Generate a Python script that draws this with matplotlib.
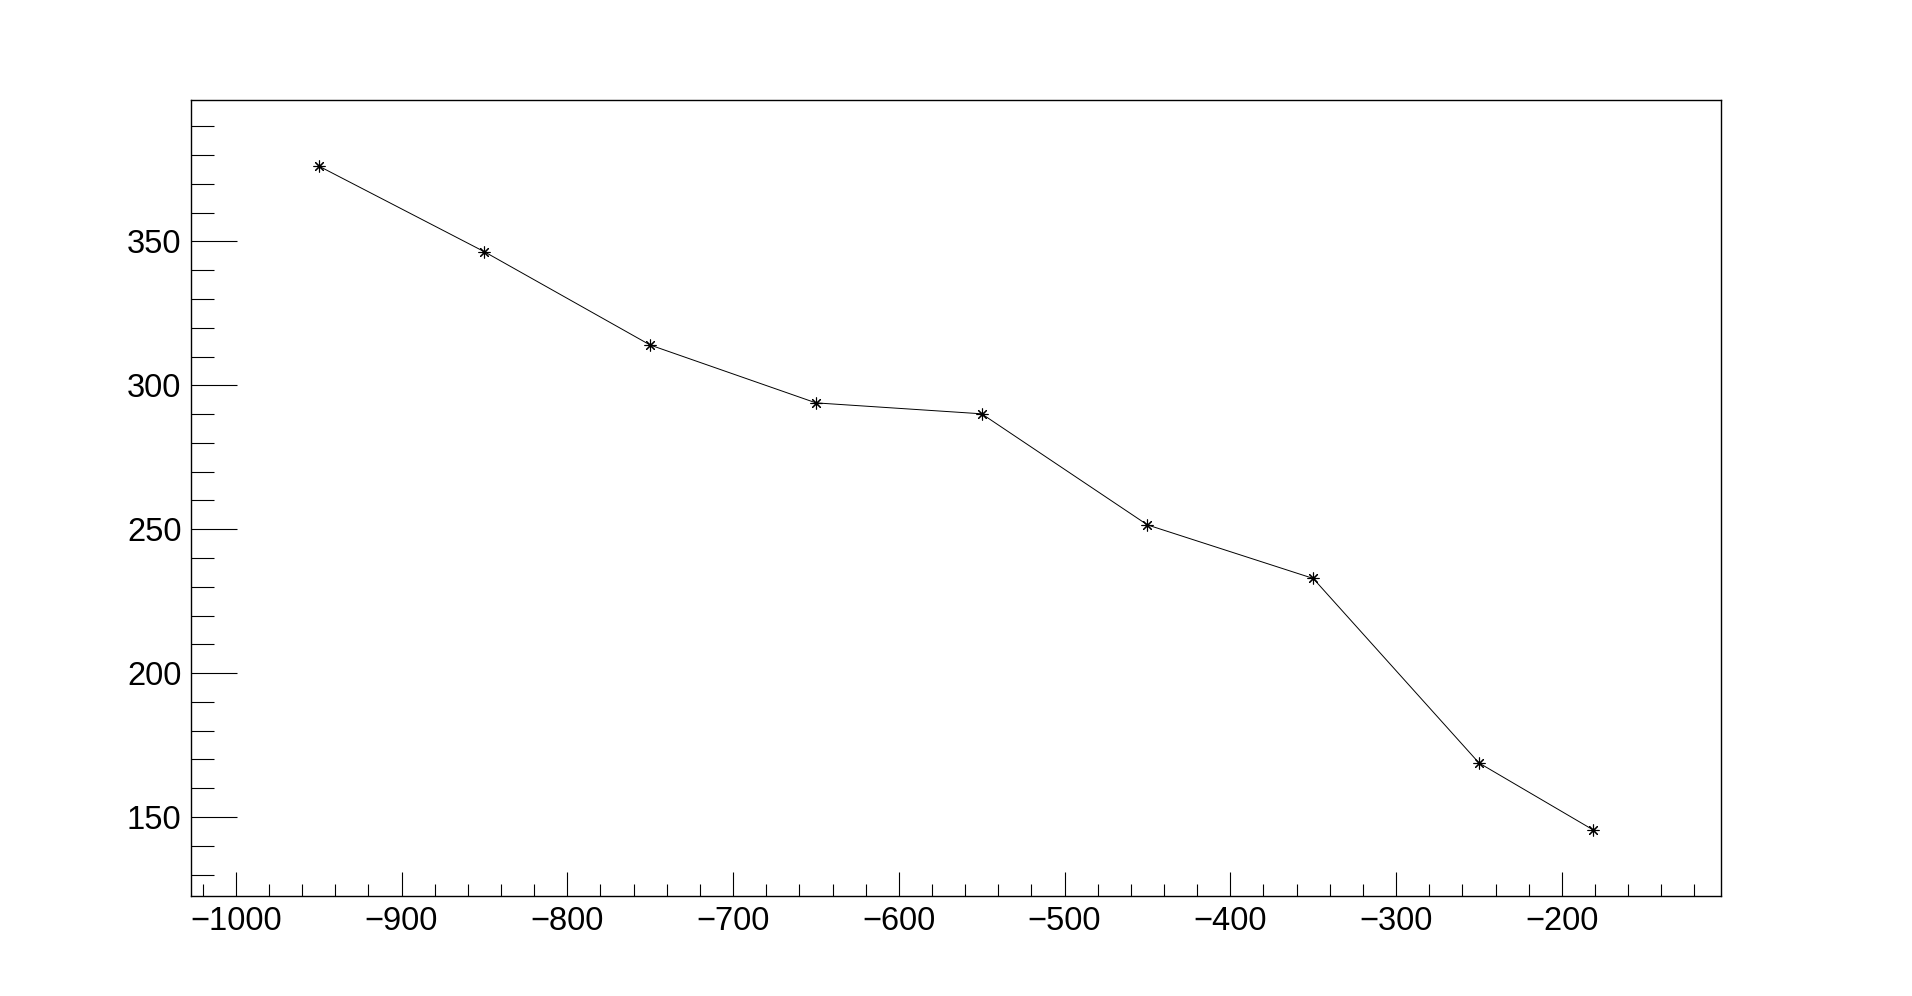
import matplotlib
matplotlib.use("Agg")
import matplotlib.pyplot as plt
from matplotlib.ticker import MultipleLocator

# data
x_vals = [-950, -850, -750, -650, -550, -450, -350, -250, -181]
y_vals = [376.2, 346.4, 314.0, 293.9, 290.1, 251.5, 232.9, 168.8, 145.5]

plt.rcParams['font.family'] = ['Liberation Sans', 'DejaVu Sans']

fig = plt.figure(figsize=(19.12, 9.96), dpi=100)
ax = fig.add_axes([0.1, 0.1, 0.8, 0.8])

ax.plot(x_vals, y_vals, color='black', linewidth=0.7,
        marker=(8, 2, 0), markersize=8.5, markeredgewidth=0.8)

# ROOT-like range: 10% margin around the data
dx = max(x_vals) - min(x_vals)
dy = max(y_vals) - min(y_vals)
ax.set_xlim(min(x_vals) - 0.1 * dx, max(x_vals) + 0.1 * dx)
ax.set_ylim(min(y_vals) - 0.1 * dy, max(y_vals) + 0.1 * dy)

ax.xaxis.set_major_locator(MultipleLocator(100))
ax.xaxis.set_minor_locator(MultipleLocator(20))
ax.yaxis.set_major_locator(MultipleLocator(50))
ax.yaxis.set_minor_locator(MultipleLocator(10))

ax.tick_params(axis='x', which='major', direction='in', length=17, width=0.8,
               labelsize=23.5, pad=7, top=False)
ax.tick_params(axis='x', which='minor', direction='in', length=8.5, width=0.8, top=False)
ax.tick_params(axis='y', which='major', direction='in', length=33, width=0.8,
               labelsize=23.5, pad=7, right=False)
ax.tick_params(axis='y', which='minor', direction='in', length=16.5, width=0.8, right=False)

for sp in ax.spines.values():
    sp.set_linewidth(1.0)

fig.savefig("out.png", dpi=100)
